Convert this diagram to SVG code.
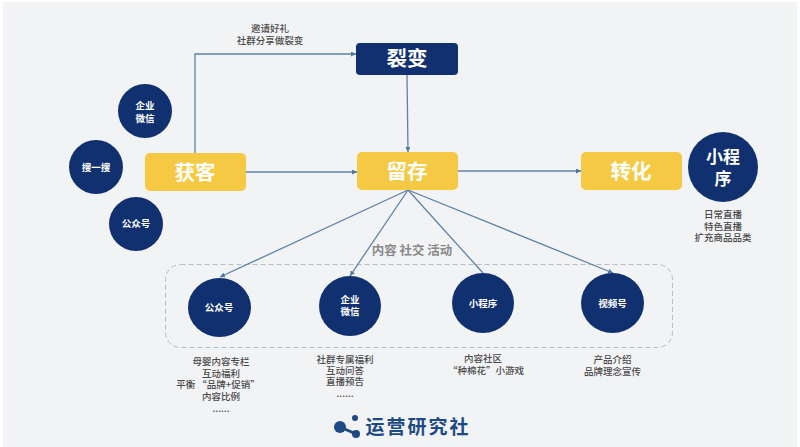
<svg xmlns="http://www.w3.org/2000/svg" width="800" height="447" viewBox="0 0 800 447">
<style>
text{font-family:"Noto Sans CJK SC","Liberation Sans",sans-serif;text-anchor:middle}
.c{fill:#11306f}
.y{fill:#f6c944}
.n{fill:#11306f}
.big{fill:#fff;font-weight:700;font-size:20.5px}
.w{fill:#fff;font-weight:700;font-size:9.5px}
.s{fill:#4a4a4a;font-weight:500;font-size:9.5px}
.l{fill:none;stroke:#5f82a8;stroke-width:1.3}
</style>
<defs>
<marker id="a" markerWidth="5" markerHeight="5" refX="5" refY="2.500" orient="auto" markerUnits="userSpaceOnUse"><path d="M0 0L5 2.500L0 5z" fill="#4f76a3"/></marker>
</defs>
<rect width="800" height="447" fill="#fff"/>
<rect x="3" y="2" width="794" height="445" fill="#f2f3f5"/>
<rect x="165.500" y="264.500" width="507" height="83" rx="15" fill="none" stroke="#b9bcc2" stroke-width="1" stroke-dasharray="5 3"/>
<g id="connectors">
<path class="l" d="M195 153V54H356" marker-end="url(#a)"/>
<path class="l" d="M246 172H357" marker-end="url(#a)"/>
<path class="l" d="M407 75L408 152" marker-end="url(#a)"/>
<path class="l" d="M458 171H581" marker-end="url(#a)"/>
<path class="l" d="M408 190L220 277" marker-end="url(#a)"/>
<path class="l" d="M408 190L350 276" marker-end="url(#a)"/>
<path class="l" d="M408 190L483 273"/>
<path class="l" d="M408 190L613 273" marker-end="url(#a)"/>
</g>
<g id="invite"><text class="s" x="270" y="32">邀请好礼<tspan x="270" dy="12">社群分享做裂变</tspan></text></g>
<g id="liebian"><rect class="n" x="356" y="43" width="102" height="32" rx="4"/><text class="big" x="407" y="66">裂变</text></g>
<g id="huoke"><rect class="y" x="145" y="153" width="101" height="38" rx="5"/><text class="big" x="195" y="179.500">获客</text></g>
<g id="liucun"><rect class="y" x="357" y="152" width="101" height="38" rx="5"/><text class="big" x="407" y="178.500">留存</text></g>
<g id="zhuanhua"><rect class="y" x="581" y="152" width="101" height="38" rx="5"/><text class="big" x="631" y="178.500">转化</text></g>
<g id="c-qywx"><circle class="c" cx="145" cy="111" r="27"/><text class="w" x="145" y="109">企业<tspan x="145" dy="12.500">微信</tspan></text></g>
<g id="c-sys"><circle class="c" cx="96" cy="167" r="27"/><text class="w" x="96" y="171">搜一搜</text></g>
<g id="c-gzh"><circle class="c" cx="136" cy="224" r="27"/><text class="w" x="136" y="227">公众号</text></g>
<g id="c-xcx"><circle class="c" cx="723" cy="167" r="35"/><text x="723" y="163" fill="#fff" font-weight="700" font-size="17">小程<tspan x="723" dy="22">序</tspan></text></g>
<g id="xcx-text"><text class="s" x="723" y="217.500">日常直播<tspan x="723" dy="12">特色直播</tspan><tspan x="723" dy="11">扩充商品品类</tspan></text></g>
<g id="tags"><text x="412" y="255" fill="#8a8a8a" font-weight="700" font-size="12.500">内容 社交 活动</text></g>
<g id="b-gzh"><ellipse class="c" cx="219.500" cy="307.500" rx="31.500" ry="29.500"/><text class="w" x="219" y="310.500">公众号</text></g>
<g id="b-qywx"><ellipse class="c" cx="350" cy="306" rx="31" ry="30"/><text class="w" x="350" y="303">企业<tspan x="350" dy="12">微信</tspan></text></g>
<g id="b-xcx"><ellipse class="c" cx="483" cy="303" rx="31" ry="30"/><text class="w" x="483" y="307">小程序</text></g>
<g id="b-sph"><ellipse class="c" cx="612.500" cy="303" rx="31.500" ry="30"/><text class="w" x="612.500" y="307">视频号</text></g>
<g id="t-gzh"><text class="s" x="221" y="364.500">母婴内容专栏<tspan x="221" dy="12">互动福利</tspan><tspan x="218" dy="11.500">平衡 “品牌+促销”</tspan><tspan x="221" dy="12">内容比例</tspan><tspan x="221" dy="12">......</tspan></text></g>
<g id="t-qywx"><text class="s" x="345" y="362.500">社群专属福利<tspan x="345" dy="11.500">互动问答</tspan><tspan x="345" dy="11">直播预告</tspan><tspan x="345" dy="12">......</tspan></text></g>
<g id="t-xcx"><text class="s" x="483" y="361.500">内容社区<tspan x="486" dy="12.500">“种棉花”小游戏</tspan></text></g>
<g id="t-sph"><text class="s" x="612.500" y="362.500">产品介绍<tspan x="612.500" dy="12">品牌理念宣传</tspan></text></g>
<g id="logo">
<path d="M340 427L356 434" stroke="#1d4a85" stroke-width="3"/>
<circle cx="340" cy="427" r="6" fill="#1d4a85"/><circle cx="355" cy="418" r="3" fill="#1d4a85"/><circle cx="356" cy="434" r="4" fill="#1d4a85"/>
<text x="418" y="434" fill="#1d4a85" font-weight="700" font-size="19" letter-spacing="2">运营研究社</text>
</g>
</svg>
